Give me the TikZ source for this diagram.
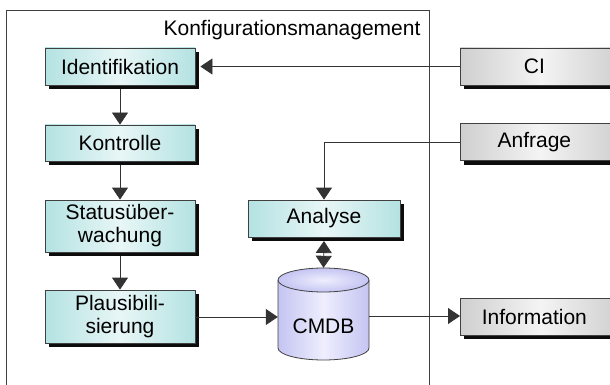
\documentclass[tikz,border=0pt]{standalone}
\usepackage{fontspec}
\setmainfont{Liberation Sans}
\usetikzlibrary{arrows.meta,calc}
\definecolor{boxline}{HTML}{404040}
\definecolor{cyanedge}{HTML}{B4E2E2}
\definecolor{cyanmid}{HTML}{E8F6F6}
\definecolor{greyedge}{HTML}{CFCFCF}
\definecolor{greymid}{HTML}{F4F4F4}
\definecolor{dbedge}{HTML}{C4C4F2}
\definecolor{dbmid}{HTML}{EEEEFE}
\definecolor{shadowcol}{HTML}{0C0C0C}
\tikzset{
  x=1pt, y=-1pt,
  every node/.style={font=\fontsize{21}{23}\selectfont, align=center},
  shadowbox/.style={inner sep=0pt, outer sep=0pt, fill=shadowcol},
  procbox/.style={draw=boxline, line width=0.8pt, minimum width=150pt, inner sep=0pt,
    left color=cyanedge, right color=cyanedge, middle color=cyanmid},
  extbox/.style={draw=boxline, line width=0.8pt, minimum width=160pt, minimum height=37pt, inner sep=0pt,
    left color=greyedge, right color=greyedge, middle color=greymid},
  conn/.style={draw=black!80, line width=0.8pt},
  tip/.tip={Triangle[width=16pt,length=12pt]},
  arr/.style={conn, -tip},
  darr/.style={conn, tip-tip},
}
\begin{document}
\begin{tikzpicture}
\useasboundingbox (0,0) rectangle (610,385);

% frame of the management area
\draw[boxline, line width=0.8pt] (6,385) -- (6,10) -- (429,10) -- (429,385);
\node[anchor=east] (title) at (424,30) {Konfigurationsmanagement};

% solid shadows behind the boxes
\node[shadowbox, minimum width=150pt, minimum height=37pt] (identsh) at (124,70.5) {};
\node[shadowbox, minimum width=150pt, minimum height=36pt] (kontrsh) at (124,147) {};
\node[shadowbox, minimum width=150pt, minimum height=52pt] (statussh) at (124,230) {};
\node[shadowbox, minimum width=150pt, minimum height=53pt] (plaussh) at (124,320.5) {};
\node[shadowbox, minimum width=152pt, minimum height=37pt] (analysesh) at (328,222.5) {};
\node[shadowbox, minimum width=160pt, minimum height=37pt, anchor=west] (cish) at (464,70.5) {};
\node[shadowbox, minimum width=160pt, minimum height=37pt, anchor=west] (anfragesh) at (464,146) {};
\node[shadowbox, minimum width=160pt, minimum height=37pt, anchor=west] (infosh) at (464,320.5) {};

% process steps
\node[procbox, minimum height=37pt] (ident) at (120,66.5) {Identifikation};
\node[procbox, minimum height=36pt] (kontr) at (120,143) {Kontrolle};
\node[procbox, minimum height=52pt] (status) at (120,226) {Statusüber-\\wachung};
\node[procbox, minimum height=53pt] (plaus) at (120,316.5) {Plausibili-\\sierung};
\node[procbox, minimum width=152pt, minimum height=37pt] (analyse) at (324,218.5) {Analyse};

% external inputs and outputs
\node[extbox, anchor=west] (ci) at (460,66.5) {\hspace*{-12pt}CI};
\node[extbox, anchor=west] (anfrage) at (460,142) {\hspace*{-12pt}Anfrage};
\node[extbox, anchor=west] (info) at (460,316.5) {\hspace*{-12pt}Information};

% database cylinder
\node[minimum width=91pt, minimum height=92pt, inner sep=0pt] (cmdb) at (323.5,314) {};
\path[left color=dbedge, right color=dbedge, middle color=dbmid]
  (278,280) -- (278,348) arc[start angle=180, end angle=360, x radius=45.5, y radius=-12]
  -- (369,280) arc[start angle=0, end angle=180, x radius=45.5, y radius=12] -- cycle;
\draw[boxline, line width=0.8pt]
  (278,280) -- (278,348) arc[start angle=180, end angle=360, x radius=45.5, y radius=-12]
  -- (369,280);
\draw[boxline, line width=0.8pt, inner color=dbmid, outer color=dbedge]
  (323.5,280) ellipse[x radius=45.5, y radius=12];
\node (cmdblabel) at (323.5,326) {CMDB};

% connectors
\draw[arr] (ci.west) -- ([xshift=5pt]ident.east);
\draw[arr] (identsh.south -| ident.south) -- (kontr.north);
\draw[arr] (kontrsh.south -| kontr.south) -- (status.north);
\draw[arr] (statussh.south -| status.south) -- (plaus.north);
\draw[arr] (anfrage.west) -| (analyse.north);
\draw[darr] (analysesh.south -| analyse.south) -- (cmdb.north);
\draw[arr] (plaus.east |- 0,317) -- (cmdb.west |- 0,317);
\draw[arr] (cmdb.east |- 0,316) -- (info.west |- 0,316);
\end{tikzpicture}
\end{document}
